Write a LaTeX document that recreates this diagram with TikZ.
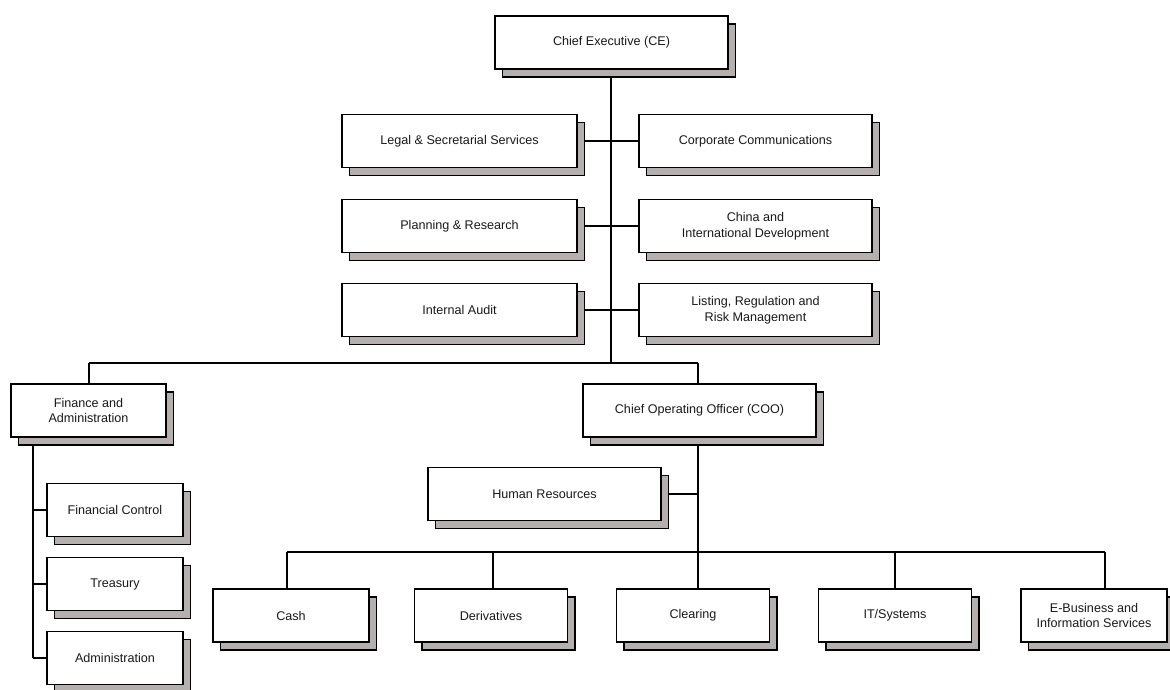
\documentclass[tikz,border=0pt]{standalone}
\usepackage{fontspec}
\setmainfont{Liberation Sans}
\usetikzlibrary{shadows,backgrounds}
\definecolor{shgrey}{RGB}{181,176,173}
\begin{document}
\begin{tikzpicture}[x=1pt,y=-1pt,
  box/.style={draw=black,fill=white,line width=1.2pt,inner sep=0pt,outer sep=0pt,align=center,
    text=black!90,font=\fontsize{12.6}{15.5}\selectfont,
    drop shadow={shadow xshift=7.5pt,shadow yshift=-8pt,fill=shgrey,draw=black,opacity=1,line width=1.2pt}},
  wide/.style={box,minimum width=233pt,minimum height=53pt},
  small/.style={box,minimum width=136pt,minimum height=53pt},
  unit/.style={box,minimum width=153pt,minimum height=53pt},
  conn/.style={line width=1.4pt,draw=black}]
\useasboundingbox (0,0) rectangle (1170,689);

% top level
\node[wide] (ce) at (611.5,42.5) {Chief Executive (CE)};
\node[wide,minimum width=235pt] (legal) at (459.5,141) {Legal \& Secretarial Services};
\node[wide] (corp) at (755.5,141) {Corporate Communications};
\node[wide,minimum width=235pt] (plan) at (459.5,226) {Planning \& Research};
\node[wide] (china) at (755.5,226) {China and\\International Development};
\node[wide,minimum width=235pt] (audit) at (459.5,310) {Internal Audit};
\node[wide] (listing) at (755.5,310) {Listing, Regulation and\\Risk Management};

% second level
\node[box,minimum width=155pt,minimum height=53pt] (fin) at (88.5,410.5) {Finance and\\Administration};
\node[wide] (coo) at (699.5,410.5) {Chief Operating Officer (COO)};
\node[wide] (hr) at (544.5,494) {Human Resources};

% finance units
\node[small] (fc) at (115,510) {Financial Control};
\node[small] (treas) at (115,584) {Treasury};
\node[small] (admin) at (115,658) {Administration};

% operating units
\node[unit,minimum width=156pt] (cash) at (291,615.5) {Cash};
\node[unit] (deriv) at (491,615.5) {Derivatives};
\node[unit] (clear) at (693,615.5) {Clearing};
\node[unit] (it) at (895,615.5) {IT/Systems};
\node[unit,minimum width=146pt] (ebiz) at (1094,615.5) {E-Business and\\Information Services};

% junction coordinates
\coordinate (j1) at (611,363);
\coordinate (jfin) at (89,363);
\coordinate (jcoo) at (698,363);
\coordinate (j2) at (698,552);
\coordinate (jcash) at (287,552);
\coordinate (jderiv) at (493,552);
\coordinate (jit) at (895,552);
\coordinate (jebiz) at (1105,552);
\coordinate (jfb) at (33,658);

\begin{scope}[on background layer]
  \draw[conn] (ce.south -| j1) -- (j1);
  \draw[conn] (jfin) -- (jcoo);
  \draw[conn] (jfin) -- (jfin |- fin.north);
  \draw[conn] (jcoo) -- (jcoo |- coo.north);
  \draw[conn] (legal.east) -- (legal.east -| corp.west);
  \draw[conn] (plan.east) -- (plan.east -| china.west);
  \draw[conn] (audit.east) -- (audit.east -| listing.west);
  \draw[conn] (coo.south -| j2) -- (j2);
  \draw[conn] (hr.east) -- (hr.east -| j2);
  \draw[conn] (jcash) -- (jebiz);
  \draw[conn] (jcash) -- (jcash |- cash.north);
  \draw[conn] (jderiv) -- (jderiv |- deriv.north);
  \draw[conn] (j2) -- (j2 |- clear.north);
  \draw[conn] (jit) -- (jit |- it.north);
  \draw[conn] (jebiz) -- (jebiz |- ebiz.north);
  \draw[conn] (fin.south -| jfb) -- (jfb);
  \draw[conn] (fc.west -| jfb) -- (fc.west);
  \draw[conn] (treas.west -| jfb) -- (treas.west);
  \draw[conn] (jfb) -- (admin.west);
\end{scope}
\end{tikzpicture}
\end{document}
